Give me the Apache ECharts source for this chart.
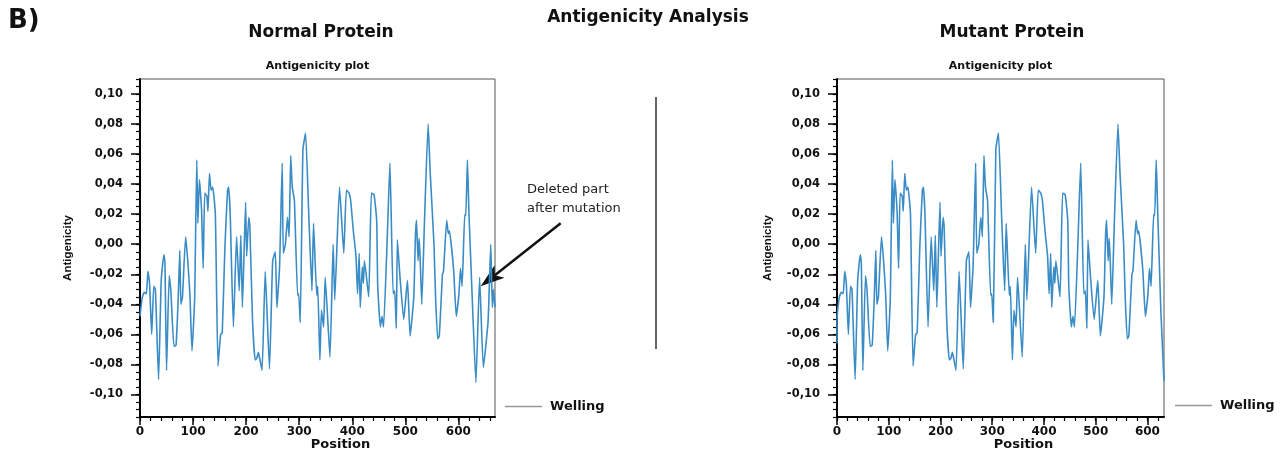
<!DOCTYPE html>
<html>
<head>
<meta charset="utf-8">
<script src="https://cdn.jsdelivr.net/npm/echarts@6/dist/echarts.min.js"></script>
<style>
  html, body { margin: 0; padding: 0; background: #fff; }
  #chart { width: 1287px; height: 461px; }
</style>
</head>
<body>
<div id="chart"></div>
<script>
// ---- Data: [position, antigenicity] ----
const normalPoints = [
  [0,-0.048],[4,-0.036],[8,-0.032],[12,-0.033],[15,-0.018],[18,-0.026],[22,-0.060],[26,-0.028],
  [29,-0.030],[35,-0.090],[40,-0.024],[45,-0.007],[47,-0.012],[50,-0.084],[55,-0.021],[58,-0.030],
  [64,-0.068],[68,-0.067],[72,-0.036],[75,-0.004],[77,-0.040],[80,-0.035],[86,0.005],[90,-0.011],
  [94,-0.033],[98,-0.071],[103,-0.036],[107,0.056],[109,0.014],[112,0.043],[116,0.023],[119,-0.016],
  [122,0.034],[126,0.032],[128,0.022],[131,0.047],[134,0.036],[137,0.038],[142,0.020],[147,-0.081],
  [152,-0.060],[155,-0.059],[160,-0.002],[165,0.036],[167,0.038],[170,0.020],[176,-0.055],[182,0.005],
  [187,-0.031],[190,0.006],[193,-0.042],[199,0.028],[201,-0.008],[205,0.018],[207,0.012],[212,-0.050],
  [217,-0.077],[220,-0.076],[223,-0.072],[225,-0.075],[230,-0.084],[236,-0.018],[244,-0.083],[250,-0.011],
  [255,-0.005],[258,-0.042],[263,-0.015],[268,0.054],[270,-0.006],[274,0.000],[278,0.018],[281,0.005],
  [284,0.059],[287,0.038],[291,0.029],[297,-0.034],[299,-0.033],[302,-0.052],[307,0.063],[312,0.074],
  [318,0.020],[324,-0.031],[327,0.014],[333,-0.034],[335,-0.028],[339,-0.077],[342,-0.044],[346,-0.055],
  [349,-0.022],[358,-0.075],[364,0.000],[367,-0.037],[376,0.038],[384,-0.006],[389,0.036],[394,0.034],
  [397,0.029],[402,0.009],[407,-0.008],[410,-0.033],[413,-0.006],[415,-0.042],[419,-0.015],[421,-0.026],
  [423,-0.011],[431,-0.035],[436,0.034],[441,0.033],[446,0.016],[448,-0.028],[453,-0.055],[456,-0.048],
  [459,-0.055],[466,0.005],[471,0.054],[477,-0.033],[480,-0.031],[483,-0.056],[485,0.003],[490,-0.022],
  [497,-0.050],[504,-0.024],[509,-0.061],[516,-0.035],[519,0.005],[521,0.016],[524,-0.011],[526,0.004],
  [528,-0.010],[531,-0.040],[536,0.014],[543,0.080],[547,0.047],[554,0.000],[557,-0.035],[561,-0.063],
  [564,-0.061],[570,-0.020],[572,-0.018],[578,0.016],[581,0.007],[583,0.009],[591,-0.017],[596,-0.048],
  [601,-0.033],[604,-0.016],[607,-0.028],[612,0.020],[614,0.019],[617,0.056],[620,0.020],[626,-0.035],
  [633,-0.092],[640,-0.022],[647,-0.082],[656,-0.051],[661,0.000],[664,-0.042],[666,-0.030],[669,-0.042]
];

const mutantPoints = [
  [0,-0.066],[0,-0.052],[4,-0.036],[8,-0.032],[12,-0.033],[15,-0.018],[18,-0.026],[22,-0.060],[26,-0.028],
  [29,-0.030],[35,-0.090],[40,-0.024],[45,-0.007],[47,-0.012],[50,-0.084],[55,-0.021],[58,-0.030],
  [64,-0.068],[68,-0.067],[72,-0.036],[75,-0.004],[77,-0.040],[80,-0.035],[86,0.005],[90,-0.011],
  [94,-0.033],[98,-0.071],[103,-0.036],[107,0.056],[109,0.014],[112,0.043],[116,0.023],[119,-0.016],
  [122,0.034],[126,0.032],[128,0.022],[131,0.047],[134,0.036],[137,0.038],[142,0.020],[147,-0.081],
  [152,-0.060],[155,-0.059],[160,-0.002],[165,0.036],[167,0.038],[170,0.020],[176,-0.055],[182,0.005],
  [187,-0.031],[190,0.006],[193,-0.042],[199,0.028],[201,-0.008],[205,0.018],[207,0.012],[212,-0.050],
  [217,-0.077],[220,-0.076],[223,-0.072],[225,-0.075],[230,-0.084],[236,-0.018],[244,-0.083],[250,-0.011],
  [255,-0.005],[258,-0.042],[263,-0.015],[268,0.054],[270,-0.006],[274,0.000],[278,0.018],[281,0.005],
  [284,0.059],[287,0.038],[291,0.029],[297,-0.034],[299,-0.033],[302,-0.052],[307,0.063],[312,0.074],
  [318,0.020],[324,-0.031],[327,0.014],[333,-0.034],[335,-0.028],[339,-0.077],[342,-0.044],[346,-0.055],
  [349,-0.022],[358,-0.075],[364,0.000],[367,-0.037],[376,0.038],[384,-0.006],[389,0.036],[394,0.034],
  [397,0.029],[402,0.009],[407,-0.008],[410,-0.033],[413,-0.006],[415,-0.042],[419,-0.015],[421,-0.026],
  [423,-0.011],[431,-0.035],[436,0.034],[441,0.033],[446,0.016],[448,-0.028],[453,-0.055],[456,-0.048],
  [459,-0.055],[466,0.005],[471,0.054],[477,-0.033],[480,-0.031],[483,-0.056],[485,0.003],[490,-0.022],
  [497,-0.050],[504,-0.024],[509,-0.061],[516,-0.035],[519,0.005],[521,0.016],[524,-0.011],[526,0.004],
  [528,-0.010],[531,-0.040],[536,0.014],[543,0.080],[547,0.047],[554,0.000],[557,-0.035],[561,-0.063],
  [564,-0.061],[570,-0.020],[572,-0.018],[578,0.016],[581,0.007],[583,0.009],[591,-0.017],[596,-0.048],
  [601,-0.033],[604,-0.016],[607,-0.028],[612,0.020],[614,0.019],[617,0.056],[620,0.020],[626,-0.045],
  [632,-0.091]
];

const normalLength = 669;
const mutantLength = 632;
const yMin = -0.115;
const yMax = 0.11;
const xMajorTicks = [0, 100, 200, 300, 400, 500, 600];
const yMajorTicks = [-0.10, -0.08, -0.06, -0.04, -0.02, 0, 0.02, 0.04, 0.06, 0.08, 0.10];
const seriesName = 'Welling';

// minor tick positions (every 20 along x, every 0.005 along y)
function xMinor(maxX) { const a = []; for (let v = 0; v <= maxX; v += 20) a.push(v); return a; }
const yMinorTicks = []; for (let k = -23; k <= 22; k++) yMinorTicks.push(+(k * 0.005).toFixed(3));

const FONT = 'DejaVu Sans';
const LINE_COLOR = '#3a8cc6';

const chart = echarts.init(document.getElementById('chart'), null, { renderer: 'canvas' });

const gridRects = [
  { left: 140, top: 79, width: 355, height: 338 },
  { left: 837, top: 79, width: 327, height: 338 }
];

const grids = [], xAxes = [], yAxes = [];
[normalLength, mutantLength].forEach((len, i) => {
  const r = gridRects[i];
  grids.push(Object.assign({ show: true, borderColor: '#555', borderWidth: 1, backgroundColor: 'transparent' }, r));
  grids.push(Object.assign({ show: false }, r));
  const main = i * 2, minor = i * 2 + 1;
  xAxes.push({
    type: 'value', gridIndex: main, min: 0, max: len, position: 'bottom',
    axisLine: { show: true, onZero: false, lineStyle: { color: '#000', width: 2 } },
    axisTick: { show: true, customValues: xMajorTicks, length: 8, lineStyle: { color: '#000', width: 1.5 } },
    axisLabel: { customValues: xMajorTicks, margin: 9, color: '#111', fontFamily: FONT, fontWeight: 'bold', fontSize: 12 },
    splitLine: { show: false },
    name: 'Position', nameLocation: 'middle', nameGap: 21, nameMoveOverlap: false,
    nameTextStyle: { color: '#111', fontFamily: FONT, fontWeight: 'bold', fontSize: 13, padding: [0, 0, 0, 46] }
  });
  xAxes.push({
    type: 'value', gridIndex: minor, min: 0, max: len, position: 'bottom',
    axisLine: { show: false, onZero: false },
    axisTick: { show: true, customValues: xMinor(len), length: 4, lineStyle: { color: '#000', width: 1.2 } },
    axisLabel: { show: false }, splitLine: { show: false }
  });
  yAxes.push({
    type: 'value', gridIndex: main, min: yMin, max: yMax, position: 'left',
    axisLine: { show: true, onZero: false, lineStyle: { color: '#000', width: 2 } },
    axisTick: { show: true, customValues: yMajorTicks, length: 9, lineStyle: { color: '#000', width: 1.5 } },
    axisLabel: {
      customValues: yMajorTicks, margin: 17, color: '#111', fontFamily: FONT, fontWeight: 'bold', fontSize: 11.5,
      formatter: v => (Math.abs(v) < 1e-9 ? 0 : v).toFixed(2).replace('.', ',')
    },
    splitLine: { show: false },
    name: 'Antigenicity', nameLocation: 'middle', nameGap: i === 0 ? 66 : 63, nameMoveOverlap: false,
    nameTextStyle: { color: '#111', fontFamily: 'Liberation Sans', fontWeight: 'bold', fontSize: 11.5 }
  });
  yAxes.push({
    type: 'value', gridIndex: minor, min: yMin, max: yMax, position: 'left',
    axisLine: { show: false, onZero: false },
    axisTick: { show: true, customValues: yMinorTicks, length: 4, lineStyle: { color: '#000', width: 1.2 } },
    axisLabel: { show: false }, splitLine: { show: false }
  });
});

const legendCommon = {
  orient: 'horizontal', selectedMode: false, itemWidth: 37, itemHeight: 1.5, itemGap: 0,
  icon: 'rect', itemStyle: { color: '#999' },
  textStyle: { color: '#111', fontFamily: FONT, fontWeight: 'bold', fontSize: 13, padding: [0, 0, 0, 3] },
  data: [{ name: seriesName, icon: 'rect', itemStyle: { color: '#999' } }]
};

chart.setOption({
  animation: false,
  backgroundColor: '#fff',
  grid: grids,
  xAxis: xAxes,
  yAxis: yAxes,
  legend: [
    Object.assign({ left: 500, top: 395 }, legendCommon),
    Object.assign({ left: 1170, top: 394 }, legendCommon)
  ],
  series: [
    { name: seriesName, type: 'line', xAxisIndex: 0, yAxisIndex: 0, data: normalPoints, showSymbol: false, symbol: 'none',
      smooth: 0.15, lineStyle: { color: LINE_COLOR, width: 1.6 }, itemStyle: { color: LINE_COLOR }, clip: true },
    { name: seriesName, type: 'line', xAxisIndex: 2, yAxisIndex: 2, data: mutantPoints, showSymbol: false, symbol: 'none',
      smooth: 0.15, lineStyle: { color: LINE_COLOR, width: 1.6 }, itemStyle: { color: LINE_COLOR }, clip: true }
  ]
});

// Annotation arrow pointing at the deleted region of the normal protein curve
const tip = chart.convertToPixel({ xAxisIndex: 0, yAxisIndex: 0 }, [642, -0.028]);
const tail = [tip[0] + 80, tip[1] - 63];
const dx = tip[0] - tail[0], dy = tip[1] - tail[1];
const L = Math.sqrt(dx * dx + dy * dy);
const ux = dx / L, uy = dy / L, px = -uy, py = ux;
const headLen = 24, headHalf = 8;
const base = [tip[0] - ux * headLen, tip[1] - uy * headLen];
const notch = [tip[0] - ux * headLen * 0.75, tip[1] - uy * headLen * 0.75];

function centerText(text, x, y, size, weight, family) {
  return { type: 'text', x: x, y: y, style: { text: text, fill: '#111', font: weight + ' ' + size + 'px "' + (family || FONT) + '"', textAlign: 'center', textVerticalAlign: 'middle' }, silent: true };
}

chart.setOption({
  graphic: [
    { type: 'text', x: 8, y: 21, style: { text: 'B)', fill: '#111', font: 'bold 26px "DejaVu Sans"', textAlign: 'left', textVerticalAlign: 'middle' } },
    centerText('Antigenicity Analysis', 648, 18, 17, 'bold'),
    centerText('Normal Protein', 321, 33, 17, 'bold'),
    centerText('Mutant Protein', 1012, 33, 17, 'bold'),
    centerText('Antigenicity plot', 317.5, 66, 11, 'bold'),
    centerText('Antigenicity plot', 1000.5, 66, 11, 'bold'),
    { type: 'line', shape: { x1: 656, y1: 97, x2: 656, y2: 349 }, style: { stroke: '#333', lineWidth: 1.5 } },
    { type: 'text', x: 527, y: 180, style: { text: 'Deleted part\nafter mutation', fill: '#222', font: 'normal 13px "DejaVu Sans"', lineHeight: 19, textAlign: 'left', textVerticalAlign: 'top' } },
    { type: 'line', shape: { x1: tail[0], y1: tail[1], x2: notch[0], y2: notch[1] }, style: { stroke: '#111', lineWidth: 2.5 } },
    { type: 'polygon', shape: { points: [tip, [base[0] + px * headHalf, base[1] + py * headHalf], notch, [base[0] - px * headHalf, base[1] - py * headHalf]] }, style: { fill: '#111' } }
  ]
});
</script>
</body>
</html>
